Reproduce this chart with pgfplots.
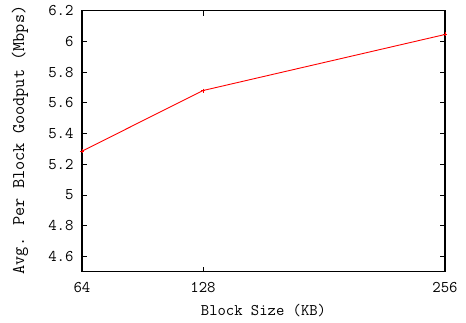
\documentclass[border=0pt]{standalone}
\usepackage{fontspec}
\usepackage{pgfplots}
\pgfplotsset{compat=1.18}
\begin{document}
\begin{tikzpicture}
\path[use as bounding box] (-82pt,-50.3pt) rectangle (384pt,271.7pt);
\begin{axis}[
  at={(0,0)}, anchor=south west,
  scale only axis,
  width=363pt, height=261pt,
  xmin=64, xmax=256, ymin=4.5, ymax=6.2,
  xtick={64,128,256},
  ytick={4.6,4.8,5.0,5.2,5.4,5.6,5.8,6.0,6.2},
  tick align=inside,
  major tick length=5pt,
  tick style={black, line width=0.8pt},
  axis line style={black, line width=1.2pt},
  ticklabel style={font=\ttfamily\fontsize{16.3}{18}\selectfont},
  label style={font=\ttfamily\fontsize{16.2}{18}\selectfont},
  /pgf/number format/assume math mode=true,
  yticklabel style={xshift=-5pt},
  xticklabel style={yshift=-7pt},
  xlabel={Block Size (KB)},
  ylabel={Avg. Per Block Goodput (Mbps)},
  xlabel style={at={(axis description cs:0.5,-0.1506)}, anchor=center},
  ylabel style={at={(axis description cs:-0.1708,0.5046)}, anchor=center,
    font=\ttfamily\fontsize{17.8}{20}\selectfont},
]
\addplot[red, line width=0.9pt, mark=+, mark size=2pt] coordinates {
  (64,5.285) (128,5.68) (256,6.045)
};
\end{axis}
\end{tikzpicture}
\end{document}
